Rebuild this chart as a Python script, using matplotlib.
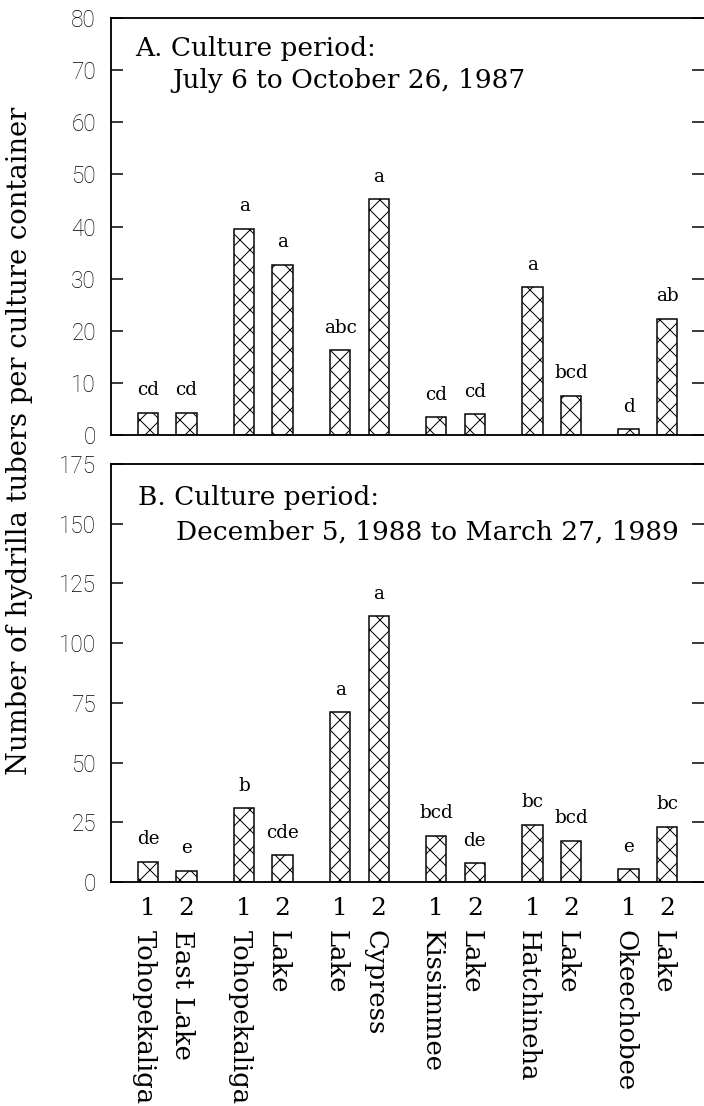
import numpy as np
import matplotlib
matplotlib.use('Agg')
import matplotlib.pyplot as plt

# tubers per container, 6 lakes x 2 sources
lakes = ['East Lake Tohopekaliga', 'Lake Tohopekaliga', 'Lake Cypress',
         'Lake Kissimmee', 'Lake Hatchineha', 'Lake Okeechobee']
bar_ticks = ['1', '2'] * 6
# lake name as printed under each bar (two rotated lines per lake)
bar_names = ['Tohopekaliga', 'East Lake', 'Tohopekaliga', 'Lake', 'Lake', 'Cypress',
             'Kissimmee', 'Lake', 'Hatchineha', 'Lake', 'Okeechobee', 'Lake']

tubers_1987 = [4.3, 4.3, 39.6, 32.7, 16.3, 45.2, 3.4, 4.0, 28.3, 7.5, 1.1, 22.3]
letters_1987 = ['cd', 'cd', 'a', 'a', 'abc', 'a', 'cd', 'cd', 'a', 'bcd', 'd', 'ab']

tubers_1989 = [8.5, 4.7, 30.8, 11.3, 71.0, 111.3, 19.3, 7.8, 23.9, 17.3, 5.3, 23.2]
letters_1989 = ['de', 'e', 'b', 'cde', 'a', 'a', 'bcd', 'de', 'bc', 'bcd', 'e', 'bc']

serif = 'DejaVu Serif'
W, H, DPI = 704, 1106, 120   # dpi 120 + 'xx' hatch -> cells about 20 px

fig = plt.figure(figsize=(W / DPI, H / DPI), dpi=DPI)
plt.rcParams['hatch.linewidth'] = 0.6

xpos = np.repeat(np.arange(6), 2) + np.tile([-0.2, 0.2], 6)


def panel(rect, values, letters, ymax, step, title1, title2, t1xy, t2xy):
    ax = fig.add_axes(rect)
    ax.bar(xpos, values, width=0.21, color='white', edgecolor='black',
           linewidth=0.9, hatch='xx')
    for x, v, s in zip(xpos, values, letters):
        ax.annotate(s, (x, v), xytext=(0, 13.5), textcoords='offset points',
                    ha='center', va='center', fontsize=11, family=serif)
    ax.set_xlim(-0.585, 5.585)
    ax.set_ylim(0, ymax)
    ax.set_yticks(np.arange(0, ymax + 1, step))
    ax.tick_params(axis='y', direction='in', length=7, width=0.9, pad=9,
                   labelsize=13.5, right=True)
    for t in ax.get_yticklabels():
        t.set_family(['Roboto', 'DejaVu Sans'])
        t.set_fontweight('light')
    ax.tick_params(axis='x', length=0)
    ax.spines['right'].set_visible(False)
    for s in ['left', 'top', 'bottom']:
        ax.spines[s].set_linewidth(1.1)
    ax.text(*t1xy, title1, transform=ax.transAxes, va='center', ha='left',
            fontsize=15.8, family=serif)
    ax.text(*t2xy, title2, transform=ax.transAxes, va='center', ha='left',
            fontsize=15.8, family=serif)
    return ax


axA = panel([111 / W, 1 - 435 / H, 1 - 111 / W, 417 / H], tubers_1987, letters_1987,
            80, 10, 'A. Culture period:', 'July 6 to October 26, 1987',
            (0.04, 0.928), (0.103, 0.851))
axA.set_xticks([])

axB = panel([111 / W, 1 - 882 / H, 1 - 111 / W, 418 / H], tubers_1989, letters_1989,
            175, 25, 'B. Culture period:', 'December 5, 1988 to March 27, 1989',
            (0.045, 0.921), (0.11, 0.837))
axB.set_xticks(xpos)
axB.set_xticklabels(bar_ticks, family=serif, fontsize=15)
axB.tick_params(axis='x', pad=9)
for x, name in zip(xpos, bar_names):
    axB.annotate(name, (x, 0), xytext=(-2.4, -28.8), textcoords='offset points',
                 rotation=-90, ha='center', va='top', fontsize=15.5, family=serif)

fig.text(20 / W, 1 - 441 / H, 'Number of hydrilla tubers per culture container',
         rotation=90, ha='center', va='center', fontsize=16.4, family=serif)

fig.savefig('out.png', dpi=DPI)
